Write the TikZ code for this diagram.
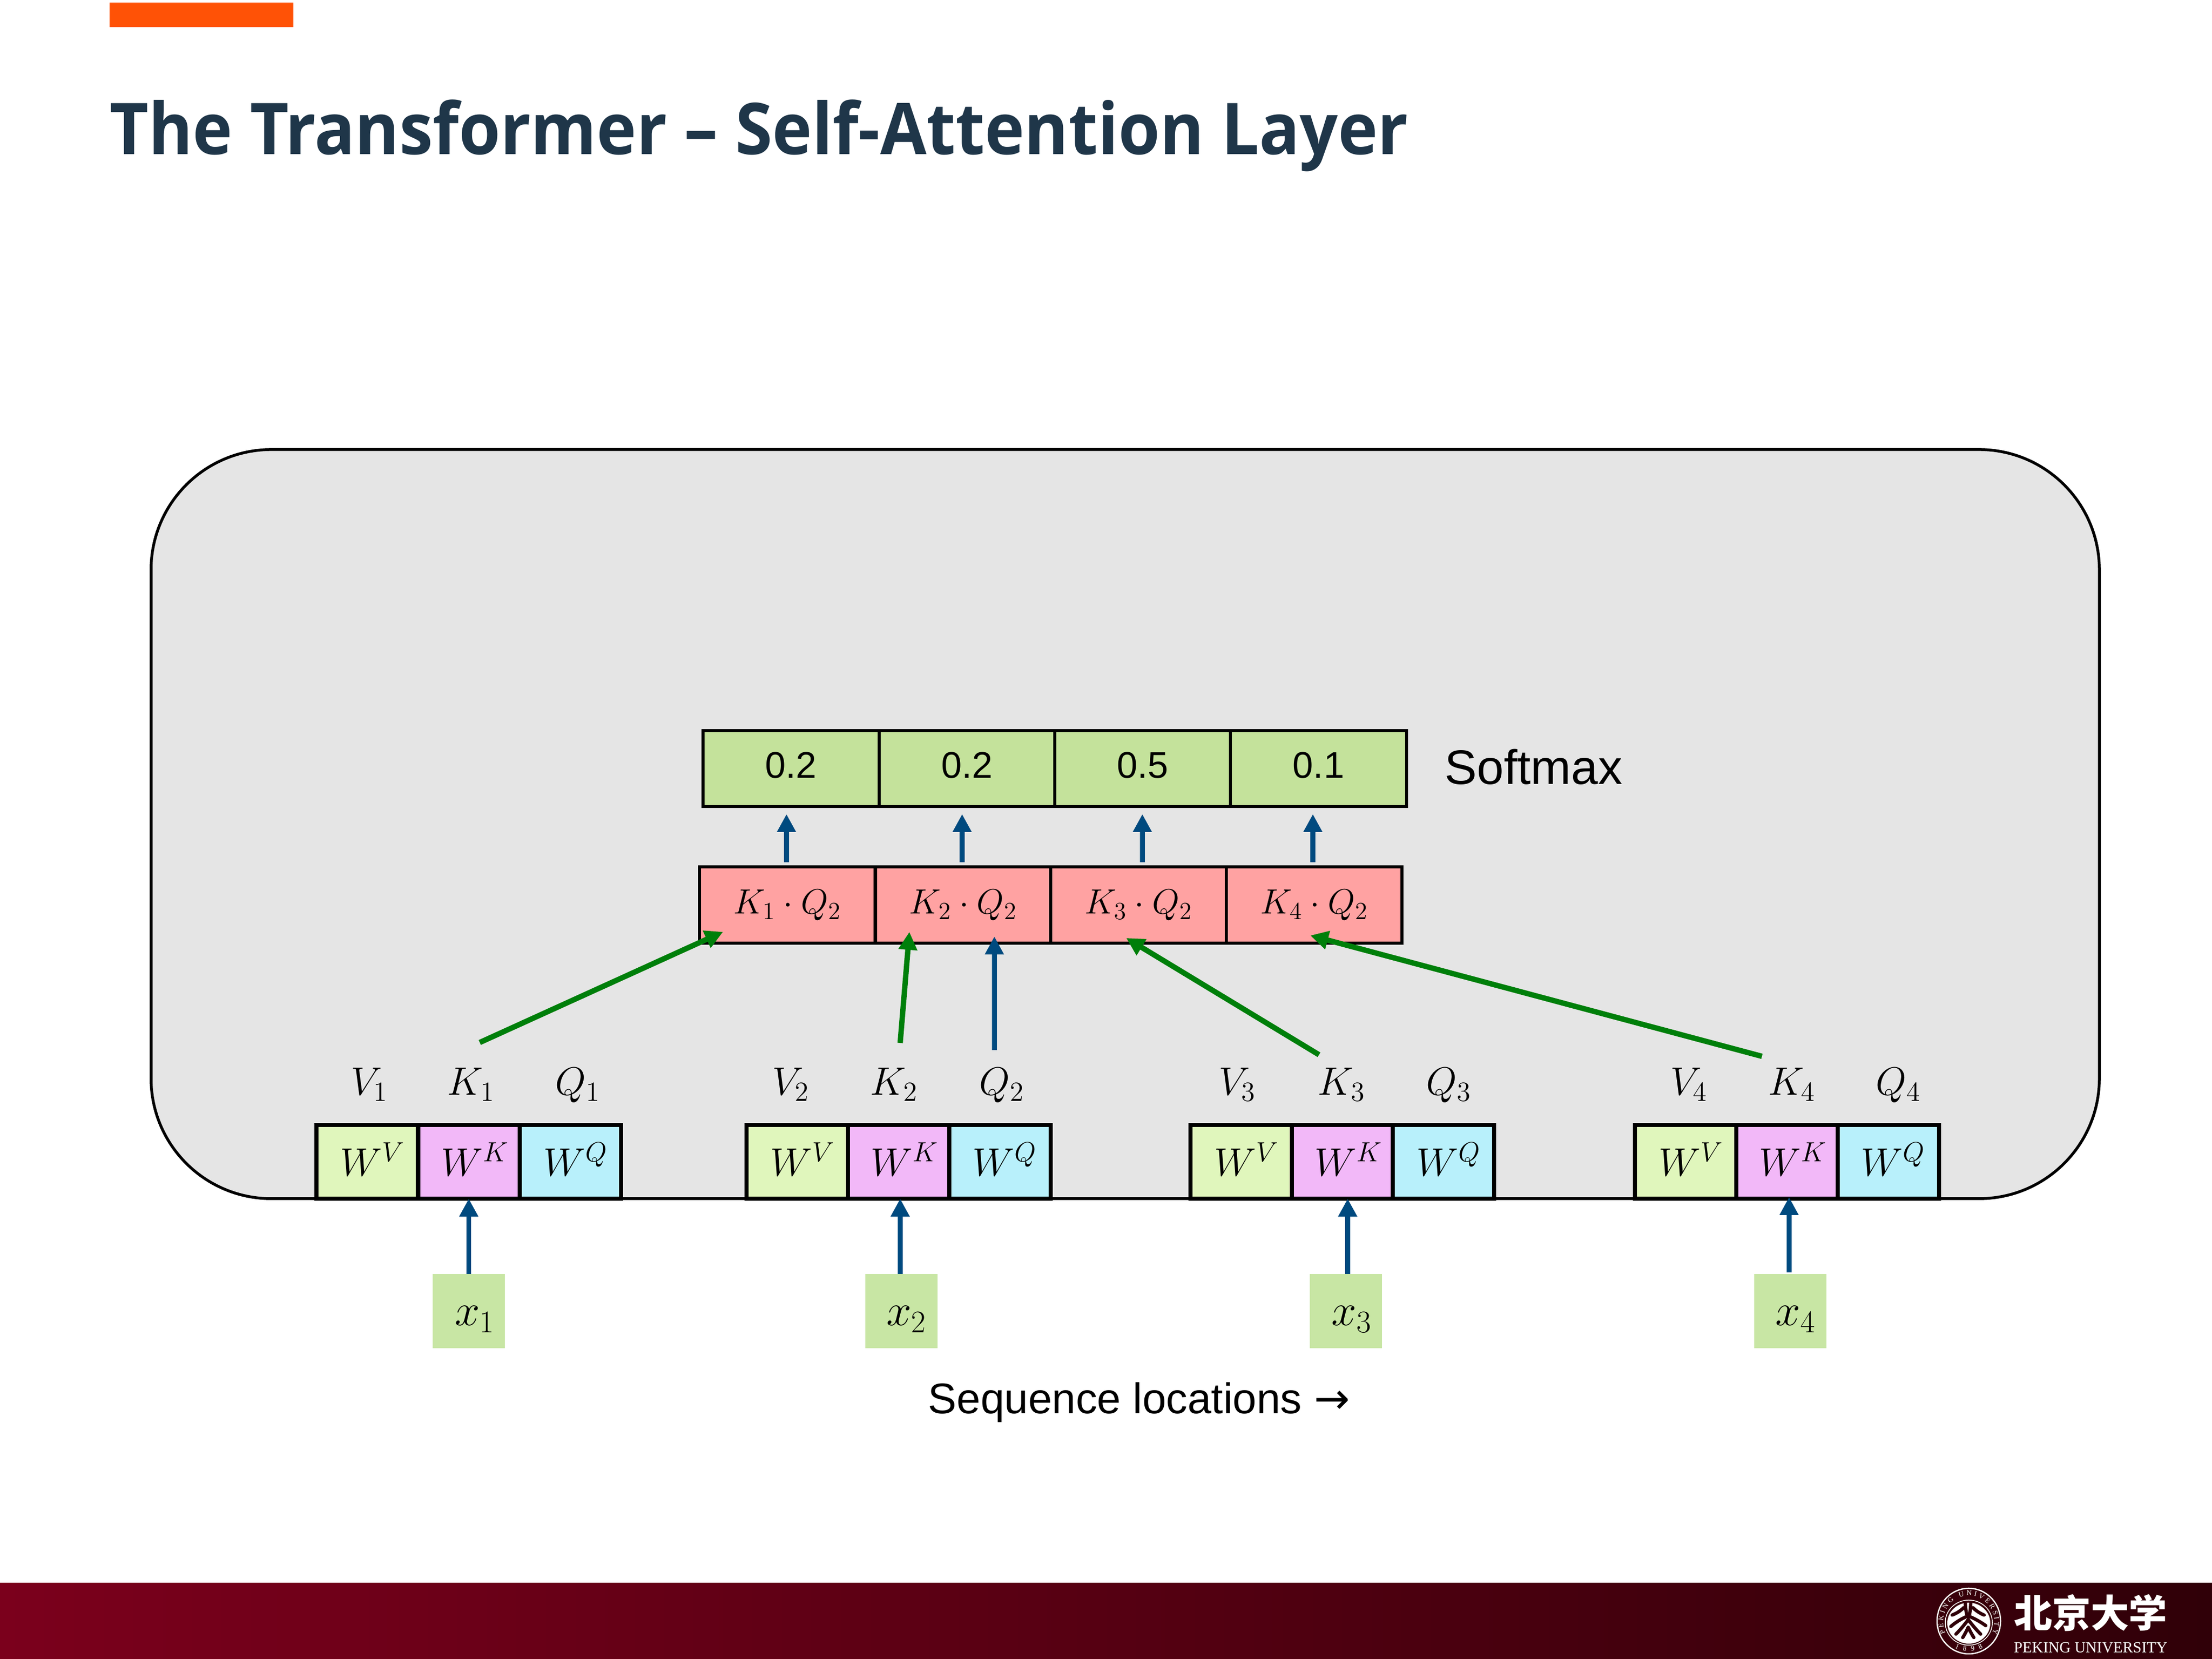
\documentclass[tikz,border=0pt]{standalone}
\usepackage{fix-cm}
\usepackage[no-math]{fontspec}
\usetikzlibrary{arrows.meta, decorations.text}
\newfontfamily\titlefont[FakeStretch=0.94]{Open Sans}
\newfontfamily\arialfont{Liberation Sans}
\newfontfamily\timesfont{Liberation Serif}
\newfontfamily\cjkfont{Noto Sans CJK SC}
\newfontfamily\symbfont{DejaVu Sans}
\definecolor{barorange}{HTML}{FF5206}
\definecolor{titleblue}{HTML}{1F3649}
\definecolor{panelgray}{HTML}{E5E5E5}
\definecolor{wvgreen}{HTML}{E0F6BC}
\definecolor{wkpink}{HTML}{F2B8F8}
\definecolor{wqcyan}{HTML}{B8F0FB}
\definecolor{probgreen}{HTML}{C4E29B}
\definecolor{dotred}{HTML}{FFA2A2}
\definecolor{inputgreen}{HTML}{C8E6A4}
\definecolor{arrowblue}{HTML}{004A7F}
\definecolor{arrowgreen}{HTML}{007F0A}
\definecolor{footleft}{HTML}{7B001C}
\definecolor{footmid}{HTML}{6A0019}
\definecolor{footright}{HTML}{300008}
\tikzset{
  wcell/.style={draw=black, line width=0.08cm, minimum width=1.98cm, minimum height=1.44cm,
    inner sep=0pt, outer sep=0pt, text height=0.7cm, text depth=0.14cm, font=\fontsize{22}{26}\selectfont},
  probcell/.style={draw=black, line width=0.06cm, minimum width=3.44cm, minimum height=1.48cm,
    inner sep=0pt, outer sep=0pt, fill=probgreen, text height=0.52cm, text depth=0.14cm, font=\arialfont\fontsize{20.6}{24}\selectfont},
  dotcell/.style={draw=black, line width=0.06cm, minimum width=3.43cm, minimum height=1.49cm,
    inner sep=0pt, outer sep=0pt, fill=dotred, text height=0.55cm, text depth=0.2cm, font=\fontsize{19.5}{24}\selectfont},
  inputcell/.style={minimum width=1.41cm, minimum height=1.45cm, inner sep=0pt, outer sep=0pt,
    fill=inputgreen, text height=0.7cm, text depth=0.13cm, font=\fontsize{25}{30}\selectfont},
  wlabel/.style={anchor=base, inner sep=0pt, font=\fontsize{22}{26}\selectfont},
  bluearrow/.style={draw=arrowblue, line width=0.095cm, -{Triangle[width=0.35cm,length=0.35cm]}},
  greenarrow/.style={draw=arrowgreen, line width=0.105cm, -{Triangle[width=0.35cm,length=0.35cm]}},
  treeline/.style={draw=footright, line width=0.065cm, line cap=round}
}
\begin{document}
\begin{tikzpicture}
\useasboundingbox (0,0) rectangle (43.2,32.4);
\fill[barorange] (2.14,32.35) rectangle (5.73,31.87);
\node[anchor=base west, inner sep=0pt, text=titleblue, font=\titlefont\bfseries\fontsize{39.7}{44}\selectfont] (title) at (2.14, 29.38) {The Transformer – Self-Attention Layer};

% panel
\node[draw=black, line width=0.055cm, fill=panelgray, rounded corners=2.35cm, minimum width=38.05cm, minimum height=14.63cm, inner sep=0pt, outer sep=0pt] (panel) at (21.975, 16.305) {};

% softmax row
\node[probcell] (prob1) at (15.445, 17.39) {0.2};
\node[probcell] (prob2) at (18.885, 17.39) {0.2};
\node[probcell] (prob3) at (22.315, 17.39) {0.5};
\node[probcell] (prob4) at (25.75, 17.39) {0.1};
\node[anchor=base west, inner sep=0pt, font=\arialfont\fontsize{26.9}{30}\selectfont] (softmax) at (28.21, 17.08) {Softmax};

% dot product row
\node[dotcell] (dot1) at (15.375, 14.725) {$K_1\cdot Q_2$};
\node[dotcell] (dot2) at (18.81, 14.725) {$K_2\cdot Q_2$};
\node[dotcell] (dot3) at (22.235, 14.725) {$K_3\cdot Q_2$};
\node[dotcell] (dot4) at (25.665, 14.725) {$K_4\cdot Q_2$};

% weight matrices
\node[wcell, fill=wvgreen] (wv1) at (7.17, 9.71) {\hspace{0.22cm}$W^V$};
\node[wcell, fill=wkpink] (wk1) at (9.155, 9.71) {\hspace{0.24cm}$W^K$};
\node[wcell, fill=wqcyan] (wq1) at (11.14, 9.71) {\hspace{0.2cm}$W^Q$};
\node[wcell, fill=wvgreen] (wv2) at (15.57, 9.71) {\hspace{0.22cm}$W^V$};
\node[wcell, fill=wkpink] (wk2) at (17.545, 9.71) {\hspace{0.24cm}$W^K$};
\node[wcell, fill=wqcyan] (wq2) at (19.525, 9.71) {\hspace{0.2cm}$W^Q$};
\node[wcell, fill=wvgreen] (wv3) at (24.24, 9.71) {\hspace{0.22cm}$W^V$};
\node[wcell, fill=wkpink] (wk3) at (26.22, 9.71) {\hspace{0.24cm}$W^K$};
\node[wcell, fill=wqcyan] (wq3) at (28.19, 9.71) {\hspace{0.2cm}$W^Q$};
\node[wcell, fill=wvgreen] (wv4) at (32.915, 9.71) {\hspace{0.22cm}$W^V$};
\node[wcell, fill=wkpink] (wk4) at (34.895, 9.71) {\hspace{0.24cm}$W^K$};
\node[wcell, fill=wqcyan] (wq4) at (36.875, 9.71) {\hspace{0.2cm}$W^Q$};

\node[wlabel] (v1) at (7.22, 11.01) {$V_1$};
\node[wlabel] (k1) at (9.20, 11.01) {$K_1$};
\node[wlabel] (q1) at (11.29, 11.01) {$Q_1$};
\node[wlabel] (v2) at (15.45, 11.01) {$V_2$};
\node[wlabel] (k2) at (17.46, 11.01) {$K_2$};
\node[wlabel] (q2) at (19.57, 11.01) {$Q_2$};
\node[wlabel] (v3) at (24.17, 11.01) {$V_3$};
\node[wlabel] (k3) at (26.20, 11.01) {$K_3$};
\node[wlabel] (q3) at (28.30, 11.01) {$Q_3$};
\node[wlabel] (v4) at (32.99, 11.01) {$V_4$};
\node[wlabel] (k4) at (34.995, 11.01) {$K_4$};
\node[wlabel] (q4) at (37.08, 11.01) {$Q_4$};

% inputs
\node[inputcell] (x1) at (9.155, 6.795) {\hspace{0.24cm}$x_1$};
\node[inputcell] (x2) at (17.605, 6.795) {\hspace{0.2cm}$x_2$};
\node[inputcell] (x3) at (26.285, 6.795) {\hspace{0.23cm}$x_3$};
\node[inputcell] (x4) at (34.965, 6.795) {\hspace{0.21cm}$x_4$};

\draw[bluearrow] (x1.north) -- (wk1.south);
\draw[bluearrow] ([xshift=-0.025cm]x2.north) -- ([xshift=0.035cm]wk2.south);
\draw[bluearrow] ([xshift=0.035cm]x3.north) -- ([xshift=0.1cm]wk3.south);
\draw[bluearrow] ([xshift=-0.025cm,yshift=0.03cm]x4.north) -- ([xshift=0.045cm,yshift=0.03cm]wk4.south);

\draw[bluearrow] ([xshift=-0.015cm,yshift=0.09cm]dot1.north) -- ([xshift=-0.085cm,yshift=-0.15cm]prob1.south);
\draw[bluearrow] ([xshift=-0.02cm,yshift=0.09cm]dot2.north) -- ([xshift=-0.095cm,yshift=-0.15cm]prob2.south);
\draw[bluearrow] ([xshift=0.075cm,yshift=0.09cm]dot3.north) -- ([xshift=-0.005cm,yshift=-0.15cm]prob3.south);
\draw[bluearrow] ([xshift=-0.025cm,yshift=0.09cm]dot4.north) -- ([xshift=-0.11cm,yshift=-0.15cm]prob4.south);

\draw[greenarrow] ([xshift=0.215cm,yshift=1.61cm]wk1.north) -- ([xshift=-1.255cm,yshift=0.22cm]dot1.south);
\draw[greenarrow] ([xshift=0.035cm,yshift=1.6cm]wk2.north) -- ([xshift=-1.05cm,yshift=0.22cm]dot2.south);
\draw[bluearrow] ([xshift=-0.105cm,yshift=1.46cm]wq2.north) -- ([xshift=0.61cm,yshift=0.13cm]dot2.south);
\draw[greenarrow] ([xshift=-0.46cm,yshift=1.37cm]wk3.north) -- ([xshift=-0.24cm,yshift=0.1cm]dot3.south);
\draw[greenarrow] ([xshift=-0.485cm,yshift=1.34cm]wk4.north) -- ([xshift=-0.075cm,yshift=0.15cm]dot4.south);

\node[anchor=base west, inner sep=0pt, font=\arialfont\fontsize{23.8}{28}\selectfont] (seqlabel) at (18.12, 4.79) {Sequence locations {\symbfont →}};

% footer
\shade[left color=footleft, middle color=footmid, right color=footright] (0,0) rectangle (43.2,1.48);
\draw[white, line width=0.025cm] (38.45,0.74) ellipse [x radius=0.62cm, y radius=0.64cm];
\draw[white, line width=0.015cm] (38.45,0.71) ellipse [x radius=0.46cm, y radius=0.44cm];
\fill[white] (38.45,0.70) ellipse [x radius=0.42cm, y radius=0.40cm];
\path[decorate, decoration={text along path, text align=fit to path, text={|\timesfont\fontsize{4}{4}\selectfont\color{white}|PEKING UNIVERSITY}}]
  (38.45,0.72) ++(205:0.5cm and 0.52cm) arc [start angle=205, end angle=-25, x radius=0.5cm, y radius=0.52cm];
\path[decorate, decoration={text along path, text align=fit to path, text={|\timesfont\fontsize{4}{4}\selectfont\color{white}|1898}}]
  (38.45,0.74) ++(242:0.59cm and 0.59cm) arc [start angle=242, end angle=298, x radius=0.59cm, y radius=0.59cm];
\begin{scope}[shift={(37.70,1.45)}, x=0.003333cm, y=-0.003333cm]
\draw[treeline] (205,108) .. controls (207,150) and (212,175) .. (222,195);
\draw[treeline] (237,108) .. controls (235,150) and (232,175) .. (222,195);
\draw[treeline] (128,178) .. controls (160,165) and (180,150) .. (195,135);
\draw[treeline] (315,178) .. controls (285,165) and (265,150) .. (250,135);
\draw[treeline] (120,245) .. controls (155,215) and (185,200) .. (205,190);
\draw[treeline] (325,240) .. controls (290,215) and (260,200) .. (238,190);
\draw[treeline] (222,205) .. controls (200,235) and (175,265) .. (150,290);
\draw[treeline] (222,205) .. controls (245,235) and (270,265) .. (295,290);
\draw[treeline] (222,250) .. controls (210,275) and (200,295) .. (190,310);
\draw[treeline] (222,250) .. controls (235,275) and (245,295) .. (255,310);
\end{scope}
\node[inner sep=0pt, text=white, font=\cjkfont\bfseries\fontsize{21.3}{24}\selectfont] (pkuname) at (40.83, 0.90) {北京大学};
\node[anchor=base, inner sep=0pt, text=white, font=\timesfont\fontsize{8.6}{10}\selectfont] (pkuen) at (40.83, 0.12) {PEKING UNIVERSITY};
\end{tikzpicture}
\end{document}
